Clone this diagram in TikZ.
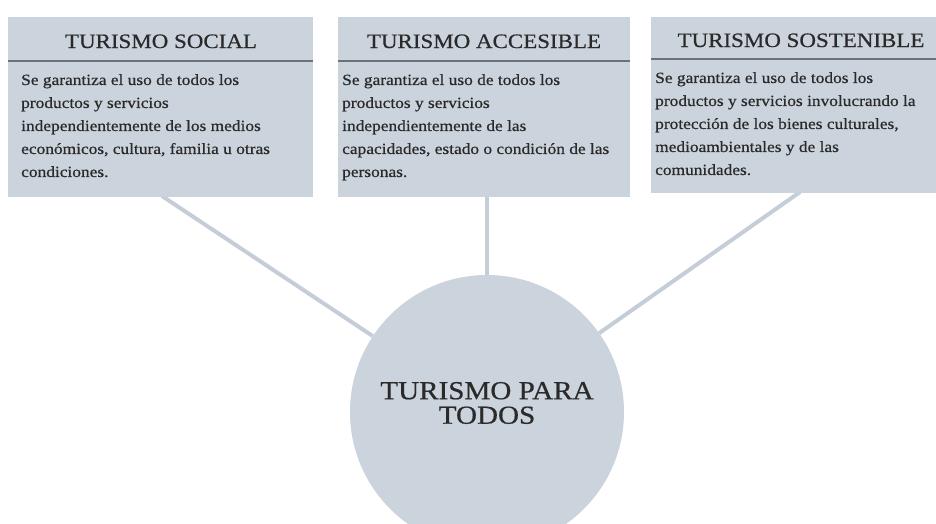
\documentclass[tikz,border=0pt]{standalone}
\usepackage{fontspec}
\setmainfont[FakeStretch=1.12,FakeBold=0.6]{Liberation Serif}
\definecolor{boxfill}{HTML}{CBD3DC}
\definecolor{linec}{HTML}{C5CED8}
\definecolor{headrule}{HTML}{6E7278}
\definecolor{txt}{HTML}{2A2A2A}
\tikzset{
  boxshape/.style={fill=boxfill, draw=none, anchor=north west, inner sep=0pt},
  headtext/.style={text=txt, font=\fontsize{20.5}{24}\selectfont, inner sep=0pt, anchor=base},
  bodytext/.style={text=txt, font=\fontsize{15.5}{23}\selectfont, inner sep=0pt, anchor=north west, align=left},
  hrule/.style={draw=headrule, line width=2pt},
  conn/.style={draw=linec, line width=4pt},
  hub/.style={circle, fill=boxfill, minimum size=274pt, inner sep=0pt}
}
\begin{document}
\begin{tikzpicture}[x=1pt,y=-1pt]
\useasboundingbox (0,0) rectangle (936,523);
% hub circle
\node[hub] (c) at (487,412) {};
% connectors start points
\coordinate (s1) at (162,196);
\coordinate (s2) at (487,196);
\coordinate (s3) at (800,192);
\draw[conn] (s1) -- (c);
\draw[conn] (s2) -- (c);
\draw[conn] (s3) -- (c);
% boxes
\node[boxshape, minimum width=305pt, minimum height=180pt] (b1) at (8,17) {};
\node[boxshape, minimum width=292pt, minimum height=180pt] (b2) at (338,17) {};
\node[boxshape, minimum width=300pt, minimum height=176pt] (b3) at (651,17) {};
% header rules
\draw[hrule] (b1.west |- 0,61) -- (b1.east |- 0,61);
\draw[hrule] (b2.west |- 0,61) -- (b2.east |- 0,61);
\draw[hrule] (b3.west |- 0,59) -- (b3.east |- 0,59);
% headers
\node[headtext] (h1) at (161,48) {TURISMO SOCIAL};
\node[headtext] (h2) at (484,48) {TURISMO ACCESIBLE};
\node[headtext] (h3) at (801,47) {TURISMO SOSTENIBLE};
% bodies
\node[bodytext] (t1) at (21,74) {Se garantiza el uso de todos los\\productos y servicios\\independientemente de los medios\\económicos, cultura, familia u otras\\condiciones.};
\node[bodytext] (t2) at (342,74) {Se garantiza el uso de todos los\\productos y servicios\\independientemente de las\\capacidades, estado o condición de las\\personas.};
\node[bodytext] (t3) at (655,72) {Se garantiza el uso de todos los\\productos y servicios involucrando la\\protección de los bienes culturales,\\medioambientales y de las\\comunidades.};
% hub text
\node[text=txt, font=\fontsize{26}{24.5}\selectfont, align=center, inner sep=0pt] (ct) at (487,403) {TURISMO PARA\\TODOS};
\end{tikzpicture}
\end{document}
